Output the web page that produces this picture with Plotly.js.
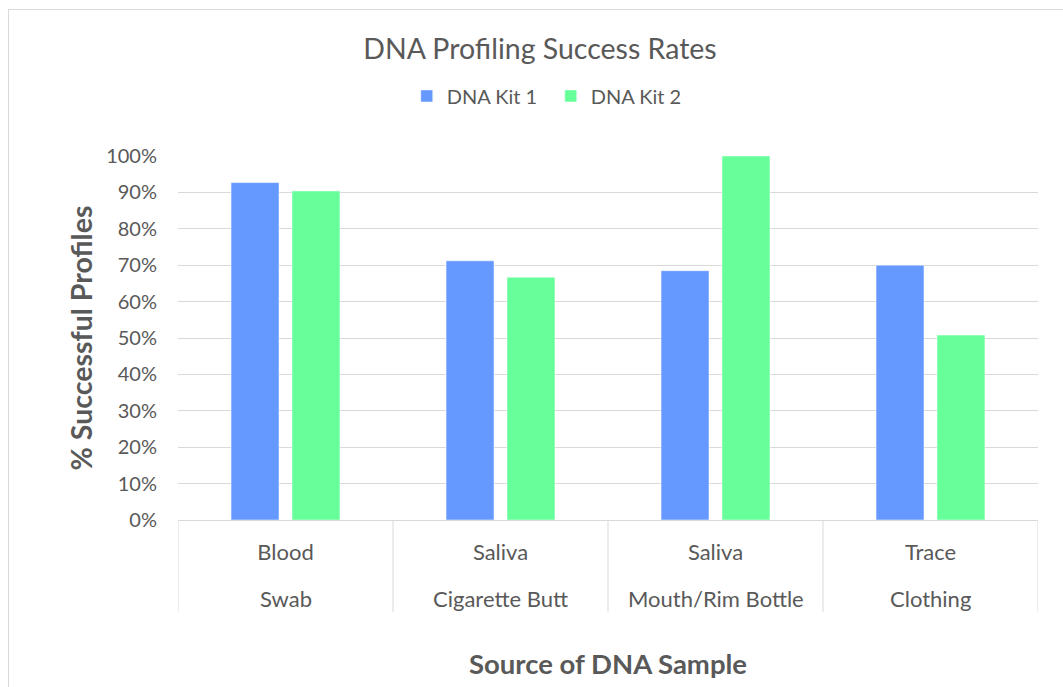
<!DOCTYPE html>
<html>
<head>
<meta charset="utf-8">
<script src="https://cdn.plot.ly/plotly-3.0.1.min.js"></script>
<style>
  html, body { margin: 0; padding: 0; background: #fff; }
  #wrap { position: relative; width: 1063px; height: 687px; }
  #chart { width: 1063px; height: 687px; }
  #frame { position: absolute; left: 8px; top: 9px; right: 0; bottom: 0;
           border-top: 1px solid #d9d9d9; border-left: 1px solid #d9d9d9; pointer-events: none; }
</style>
</head>
<body>
<div id="wrap">
  <div id="chart"></div>
  <div id="frame"></div>
</div>
<script>
// two-level category labels (top row, bottom row)
const sourceType = ["Blood", "Saliva", "Saliva", "Trace"];
const sampleItem = ["Swab", "Cigarette Butt", "Mouth/Rim Bottle", "Clothing"];
const kit1 = [0.927, 0.712, 0.685, 0.700];
const kit2 = [0.904, 0.667, 1.000, 0.508];
const seriesNames = ["DNA Kit 1", "DNA Kit 2"];

const FONT = "Lato, 'Open Sans', sans-serif";
const GRAY = "#595959";

const traces = [
  { type: "bar", name: seriesNames[0], x: sampleItem, y: kit1,
    marker: { color: "#6699ff", line: { color: "#ffffff", width: 0.5 } }, hoverinfo: "y" },
  { type: "bar", name: seriesNames[1], x: sampleItem, y: kit2,
    marker: { color: "#66ff99", line: { color: "#ffffff", width: 0.5 } }, hoverinfo: "y" }
];

const dividerBottom = -0.253;
const shapes = [];
for (let i = 0; i <= sampleItem.length; i++) {
  shapes.push({ type: "line", xref: "x", yref: "paper", x0: i - 0.5, x1: i - 0.5,
    y0: 0, y1: dividerBottom, line: { color: "#d9d9d9", width: 1 } });
}
const annotations = sampleItem.map(s => ({
  xref: "x", yref: "paper", x: s, y: -0.2143, yanchor: "middle", xanchor: "center",
  text: s, showarrow: false, font: { size: 22, color: GRAY, family: FONT }
}));

const layout = {
  width: 1063, height: 687,
  margin: { l: 178, r: 25, t: 156, b: 167 },
  paper_bgcolor: "rgba(0,0,0,0)", plot_bgcolor: "#fff",
  font: { family: FONT, color: GRAY, size: 20 },
  title: { text: "DNA Profiling Success Rates", font: { size: 28.5, color: GRAY, family: FONT },
           x: 540 / 1063, xref: "container", xanchor: "center", y: 1 - 49 / 687, yref: "container", yanchor: "middle" },
  barmode: "group", bargap: 0.433, bargroupgap: 0.213,
  showlegend: true,
  legend: { orientation: "h", x: 0.266, xanchor: "left", y: 1.165, yanchor: "middle",
            entrywidth: 99, entrywidthmode: "pixels",
            font: { size: 20, color: GRAY }, traceorder: "normal" },
  xaxis: { type: "category", showline: true, linecolor: "#d9d9d9", linewidth: 1,
           showgrid: false, ticks: "", tickfont: { size: 22, color: GRAY },
           tickmode: "array", tickvals: sampleItem, ticktext: sourceType,
           ticklabelstandoff: 13,
           range: [-0.5, 3.5],
           title: { text: "<b>Source of DNA Sample</b>", font: { size: 27.5, color: GRAY }, standoff: 90 } },
  yaxis: { range: [0, 1], dtick: 0.1, tick0: 0, tickformat: ".0%", showgrid: true,
           gridcolor: "#d9d9d9", gridwidth: 1, zeroline: false, showline: false, ticks: "",
           ticklabelstandoff: 20, tickfont: { size: 20, color: GRAY },
           title: { text: "<b>% Successful Profiles</b>", font: { size: 28.5, color: GRAY }, standoff: 5 } },
  shapes: shapes,
  annotations: annotations
};

Plotly.newPlot("chart", traces, layout, { displayModeBar: false, staticPlot: true });
</script>
</body>
</html>
